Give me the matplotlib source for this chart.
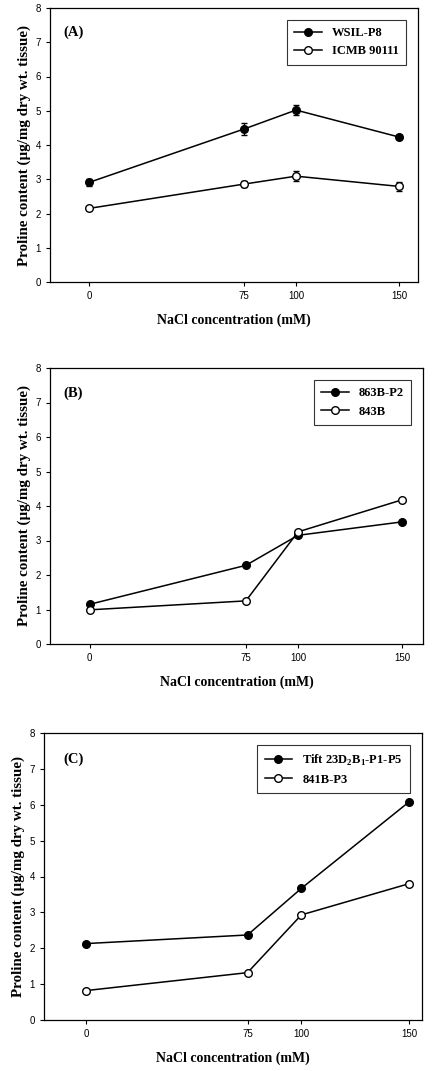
import matplotlib
matplotlib.use("Agg")
import matplotlib.pyplot as plt
from matplotlib.lines import Line2D

nacl = [0, 75, 100, 150]

a_wsil = [2.91, 4.47, 5.02, 4.23]
a_wsil_err = [0.10, 0.18, 0.15, 0.05]
a_icmb = [2.15, 2.86, 3.09, 2.79]
a_icmb_err = [0.05, 0.08, 0.15, 0.12]

b_863 = [1.15, 2.28, 3.15, 3.54]
b_843 = [0.99, 1.25, 3.25, 4.18]

c_tift = [2.13, 2.37, 3.67, 6.08]
c_841 = [0.82, 1.32, 2.93, 3.80]

ylab = "Proline content (µg/mg dry wt. tissue)"
panels = [
    ("(A)", "WSIL-P8", a_wsil, a_wsil_err, "ICMB 90111", a_icmb, a_icmb_err,
     [50/433, 1-282/1071, 368/433, 274/1071], (-19, 159), 0.035),
    ("(B)", "863B-P2", b_863, None, "843B", b_843, None,
     [50/433, 1-644/1071, 373/433, 276/1071], (-19, 160), 0.035),
    ("(C)", r"Tift 23D$_\mathbf{2}$B$_\mathbf{1}$-P1-P5", c_tift, None, "841B-P3", c_841, None,
     [44/433, 1-1020/1071, 378/433, 287/1071], (-19.5, 156), 0.05),
]

fig = plt.figure(figsize=(4.33, 10.71), dpi=100)
serif = "Liberation Serif"
plt.rcParams['mathtext.fontset'] = 'custom'
plt.rcParams['mathtext.rm'] = 'Liberation Serif:bold'
plt.rcParams['mathtext.bf'] = 'Liberation Serif:bold'

ms = 5.5
for lab, n1, y1, e1, n2, y2, e2, pos, xl, lx in panels:
    ax = fig.add_axes(pos)
    ax.errorbar(nacl, y1, yerr=e1, color="black", marker="o", markersize=ms,
                markerfacecolor="black", markeredgecolor="black", lw=1.1,
                capsize=2.5, elinewidth=1)
    ax.errorbar(nacl, y2, yerr=e2, color="black", marker="o", markersize=ms,
                markerfacecolor="white", markeredgecolor="black", lw=1.1,
                capsize=2.5, elinewidth=1)
    ax.set_xlim(*xl)
    ax.set_ylim(0, 8)
    ax.set_xticks(nacl)
    ax.set_yticks(range(0, 9))
    ax.tick_params(labelsize=7, length=3, width=0.8, direction="out")
    for t in ax.get_xticklabels() + ax.get_yticklabels():
        t.set_family("Liberation Sans")
    ax.set_xlabel("NaCl concentration (mM)", family=serif, fontweight="bold", fontsize=10, labelpad=9)
    ax.set_ylabel(ylab, family=serif, fontweight="bold", fontsize=10.8, labelpad=3)
    ax.text(lx, 0.91, lab, transform=ax.transAxes, family=serif, fontweight="bold",
            fontsize=10.5, va="center")
    handles = [Line2D([], [], color="black", marker="o", markersize=ms, markerfacecolor="black", lw=1.1),
               Line2D([], [], color="black", marker="o", markersize=ms, markerfacecolor="white", lw=1.1)]
    leg = ax.legend(handles, [n1, n2], loc="upper right", bbox_to_anchor=(0.985, 0.98), frameon=True,
                    fancybox=False, edgecolor="black", handlelength=2.2, borderpad=0.6, labelspacing=0.5,
                    prop={"family": serif, "weight": "bold", "size": 9})
    leg.get_frame().set_linewidth(0.8)
    for s in ax.spines.values():
        s.set_linewidth(0.9)

fig.savefig("out.png", dpi=100)
